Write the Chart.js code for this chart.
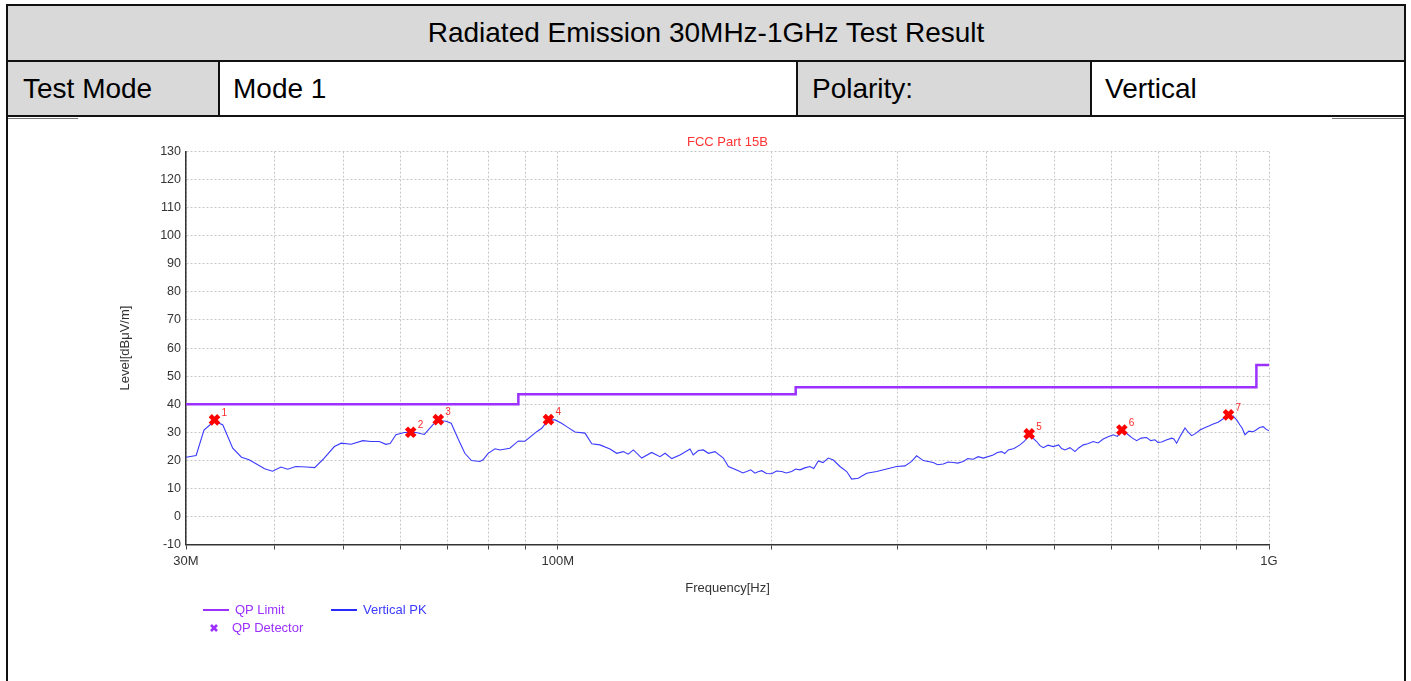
<!DOCTYPE html>
<html>
<head>
<meta charset="utf-8">
<script src="https://cdn.jsdelivr.net/npm/chart.js"></script>
<style>
body { margin: 0; background: #fff; font-family: "Liberation Sans", Arial, sans-serif; }
#page { position: relative; width: 1411px; height: 681px; overflow: hidden; }
.box { position: absolute; box-sizing: border-box; }
.line { position: absolute; background: #111; }
.txt { position: absolute; font-size: 28px; color: #000; white-space: nowrap; }
.leg { position: absolute; font-size: 13px; white-space: nowrap; line-height: 16px; }
#chartWrap { position: absolute; left: 8px; top: 118px; width: 1396px; height: 563px; }
</style>
</head>
<body>
<div id="page">
    <!-- header table -->
    <div class="box" style="left:8px;top:6px;width:1396px;height:54px;background:#d9d9d9;"></div>
    <div class="box" style="left:8px;top:62px;width:210px;height:53px;background:#d9d9d9;"></div>
    <div class="box" style="left:798px;top:62px;width:292px;height:53px;background:#d9d9d9;"></div>

    <div class="line" style="left:6px;top:4px;width:1400px;height:2px;"></div>
    <div class="line" style="left:6px;top:60px;width:1400px;height:2px;"></div>
    <div class="line" style="left:6px;top:115px;width:1400px;height:2px;"></div>
    <div class="line" style="left:6px;top:4px;width:2px;height:690px;"></div>
    <div class="line" style="left:1404px;top:4px;width:2px;height:690px;"></div>
    <div class="line" style="left:218px;top:60px;width:2px;height:57px;"></div>
    <div class="line" style="left:796px;top:60px;width:2px;height:57px;"></div>
    <div class="line" style="left:1090px;top:60px;width:2px;height:57px;"></div>
    <div class="line" style="left:8px;top:118px;width:70px;height:1px;background:#777;"></div>
    <div class="line" style="left:1332px;top:118px;width:72px;height:1px;background:#777;"></div>

    <div class="txt" style="left:8px;width:1396px;top:17px;text-align:center;">Radiated Emission 30MHz-1GHz Test Result</div>
    <div class="txt" style="left:23px;top:73px;">Test Mode</div>
    <div class="txt" style="left:233px;top:73px;">Mode 1</div>
    <div class="txt" style="left:812px;top:73px;">Polarity:</div>
    <div class="txt" style="left:1105px;top:73px;">Vertical</div>

    <div id="chartWrap"><canvas id="reChart" width="1396" height="563"></canvas></div>

    <!-- legend -->
    <div class="line" style="left:203px;top:609px;width:26px;height:2px;background:#9b30ff;"></div>
    <div class="leg" style="left:235px;top:602px;color:#9b30ff;">QP Limit</div>
    <div class="line" style="left:331px;top:609px;width:26px;height:2px;background:#2a2aff;"></div>
    <div class="leg" style="left:363px;top:602px;color:#3a3aff;">Vertical PK</div>
    <svg style="position:absolute;left:209px;top:623px;" width="10" height="10">
        <path d="M2 2 L8 8 M8 2 L2 8" stroke="#9b30ff" stroke-width="2.6"/>
    </svg>
    <div class="leg" style="left:232px;top:620px;color:#9b30ff;">QP Detector</div>
</div>

<script>
// QP limit (FCC Part 15B, 3 m), MHz / dBuV/m
const limitFreq = [30, 88, 88, 216, 216, 960, 960, 1000];
const limitLevel = [40, 40, 43.5, 43.5, 46, 46, 54, 54];

// Vertical PK trace
const pkFreq = [
    30.0, 31.0, 31.8, 32.9, 33.8, 34.9, 35.9, 36.8, 38.7, 39.7,
    40.8, 41.7, 42.8, 44.3, 45.5, 46.7, 48.5, 49.6, 51.2, 53.2,
    54.6, 56.1, 57.3, 58.1, 59.2, 60.8, 63.2, 64.9, 66.7, 67.8,
    69.6, 70.8, 72.5, 74.0, 75.6, 77.7, 78.5, 79.8, 81.6, 82.9,
    85.6, 88.0, 89.9, 93.4, 94.9, 97.0, 99.1, 101.2, 102.9, 105.7,
    109.2, 111.6, 114.6, 118.4, 121.0, 123.6, 125.6, 127.7, 131.2, 135.5,
    139.2, 141.5, 144.6, 148.5, 153.4, 155.0, 157.6, 160.2, 162.8, 166.3,
    170.9, 173.7, 179.4, 182.0, 184.3, 186.8, 189.3, 191.2, 193.5, 196.5,
    199.8, 203.0, 206.4, 209.5, 213.2, 216.0, 219.0, 222.5, 226.2, 229.0,
    232.4, 236.0, 240.0, 244.0, 249.3, 254.8, 258.9, 264.5, 271.8, 280.7,
    289.9, 299.5, 307.7, 314.4, 319.5, 326.5, 337.2, 342.0, 348.3, 354.0,
    359.8, 365.0, 371.6, 377.0, 383.8, 390.0, 396.5, 409.5, 415.0, 420.8,
    425.0, 429.9, 438.0, 446.5, 453.0, 461.1, 466.0, 471.2, 476.0, 481.4,
    489.0, 497.3, 506.0, 511.0, 516.4, 525.0, 533.5, 540.0, 548.1, 556.0,
    566.0, 575.0, 584.7, 594.0, 603.9, 612.0, 622.6, 633.9, 642.0, 651.5,
    661.0, 672.8, 682.0, 691.2, 698.0, 706.3, 717.0, 729.7, 735.0, 741.5,
    751.0, 761.8, 770.0, 778.4, 789.0, 799.7, 812.0, 823.0, 834.9, 848.0,
    862.2, 872.0, 881.1, 890.0, 900.6, 910.2, 917.0, 925.0, 937.0, 950.2,
    960.0, 970.0, 981.5, 990.0, 1000.0
];
const pkLevel = [
    21.1, 21.7, 30.8, 34.0, 32.6, 24.3, 21.1, 20.2, 17.0, 16.1,
    17.6, 16.8, 17.8, 17.6, 17.4, 20.2, 24.9, 26.1, 25.7, 27.0,
    26.7, 26.7, 25.7, 26.0, 29.1, 29.9, 29.9, 29.2, 32.6, 34.2,
    33.9, 33.2, 27.3, 22.5, 19.9, 19.6, 20.2, 22.5, 24.1, 23.7,
    24.3, 26.9, 26.8, 30.2, 31.4, 34.4, 34.4, 33.2, 32.0, 30.1,
    29.7, 25.9, 25.5, 24.0, 22.5, 23.1, 22.2, 23.7, 20.8, 22.8,
    21.3, 22.5, 20.6, 21.9, 24.0, 21.9, 23.5, 23.7, 22.5, 23.1,
    20.8, 17.8, 16.3, 15.5, 16.0, 16.6, 15.4, 15.9, 16.3, 15.3,
    15.2, 16.2, 16.0, 15.5, 16.0, 16.9, 16.6, 17.3, 17.8, 17.1,
    19.8, 19.2, 20.8, 20.1, 17.8, 16.0, 13.3, 13.6, 15.4, 16.0,
    16.9, 17.8, 18.0, 19.6, 21.6, 19.9, 19.2, 18.4, 18.7, 19.4,
    19.2, 19.0, 19.6, 20.6, 20.4, 21.3, 20.8, 21.9, 22.8, 23.1,
    22.4, 23.7, 24.2, 25.5, 26.8, 29.3, 27.8, 26.7, 25.3, 24.5,
    25.4, 24.9, 25.5, 24.2, 23.7, 24.5, 23.1, 24.4, 25.5, 25.9,
    26.7, 26.2, 27.6, 28.4, 29.1, 28.5, 30.8, 29.1, 28.0, 27.0,
    27.9, 28.1, 27.0, 27.3, 26.4, 26.5, 27.2, 27.9, 27.6, 26.1,
    28.8, 31.5, 30.0, 28.8, 29.6, 30.8, 31.6, 32.2, 32.9, 33.6,
    34.8, 35.6, 35.2, 35.8, 34.4, 32.6, 31.4, 29.1, 30.4, 30.2,
    30.9, 31.7, 32.0, 31.1, 30.5
];

// QP detector readings
const markFreq = [32.9, 62.1, 67.9, 97.0, 460.0, 621.0, 877.0];
const markLevel = [34.4, 30.0, 34.5, 34.5, 29.4, 30.8, 36.2];
const markNames = ['1', '2', '3', '4', '5', '6', '7'];

// axis ticks
const xGrid = [30, 40, 50, 60, 70, 80, 90, 100, 200, 300, 400, 500, 600, 700, 800, 900, 1000];
const xTickValues = [30, 100, 1000];
const xTickLabels = ['30M', '100M', '1G'];

const toPoints = (xs, ys) => xs.map((x, i) => ({ x: x, y: ys[i] }));

// numbers next to the detector marks
const markNumbers = {
    id: 'markNumbers',
    afterDatasetsDraw(chart) {
        var meta = chart.getDatasetMeta(0);
        var ctx = chart.ctx;
        ctx.save();
        ctx.fillStyle = '#ff2a2a';
        ctx.font = '10px "Liberation Sans", Arial, sans-serif';
        ctx.textBaseline = 'middle';
        meta.data.forEach((pt, i) => {
            ctx.fillText(markNames[i], pt.x + 7, pt.y - 7);
        });
        ctx.restore();
    }
};

Chart.defaults.font.family = '"Liberation Sans", Arial, sans-serif';
Chart.defaults.color = '#333';

var ctx = document.getElementById('reChart').getContext('2d');
new Chart(ctx, {
    type: 'line',
    data: {
        datasets: [{
            label: 'QP Detector',
            data: toPoints(markFreq, markLevel),
            showLine: false,
            pointStyle: 'crossRot',
            pointRadius: 6,
            pointBorderWidth: 4.5,
            pointBorderColor: '#ff0000',
            pointBackgroundColor: '#ff0000'
        }, {
            label: 'Vertical PK',
            data: toPoints(pkFreq, pkLevel),
            borderColor: '#3a3aff',
            borderWidth: 1.1,
            pointRadius: 0,
            tension: 0
        }, {
            label: 'QP Limit',
            data: toPoints(limitFreq, limitLevel),
            borderColor: '#9b30ff',
            borderWidth: 2.5,
            pointRadius: 0,
            tension: 0
        }]
    },
    options: {
        responsive: false,
        animation: false,
        layout: {
            padding: { left: 106, right: 135, top: 10, bottom: 80.5 }
        },
        plugins: {
            legend: { display: false },
            tooltip: { enabled: false },
            title: {
                display: true,
                text: 'FCC Part 15B',
                color: '#ff3333',
                fullSize: false,
                font: { size: 13, weight: 'normal' },
                padding: { top: 7, bottom: 1 }
            }
        },
        scales: {
            x: {
                type: 'logarithmic',
                min: 30,
                max: 1000,
                afterBuildTicks: (axis) => {
                    axis.ticks = xGrid.map(v => ({ value: v }));
                },
                afterFit: (scale) => { scale.height = 56; },
                ticks: {
                    autoSkip: false,
                    maxRotation: 0,
                    padding: 4,
                    color: '#333',
                    font: { size: 13 },
                    callback: (value) => {
                        var i = xTickValues.indexOf(value);
                        return i < 0 ? '' : xTickLabels[i];
                    }
                },
                grid: {
                    color: '#c6c6c6',
                    tickColor: '#444',
                    tickLength: 5
                },
                border: { color: '#333', width: 1.5, dash: [2, 2] },
                title: {
                    display: true,
                    text: 'Frequency[Hz]',
                    color: '#333',
                    font: { size: 13 },
                    padding: { top: 0, bottom: 4.7 }
                }
            },
            y: {
                min: -10,
                max: 130,
                afterFit: (scale) => { scale.width = 72; },
                ticks: {
                    stepSize: 10,
                    padding: 5,
                    color: '#333',
                    font: { size: 12.5 }
                },
                grid: {
                    color: '#c6c6c6',
                    drawTicks: false
                },
                border: { color: '#333', width: 1.5, dash: [2, 2] },
                title: {
                    display: true,
                    text: 'Level[dBμV/m]',
                    color: '#333',
                    font: { size: 13 },
                    padding: { top: 3.2, bottom: 0 }
                }
            }
        }
    },
    plugins: [markNumbers]
});
</script>
</body>
</html>
